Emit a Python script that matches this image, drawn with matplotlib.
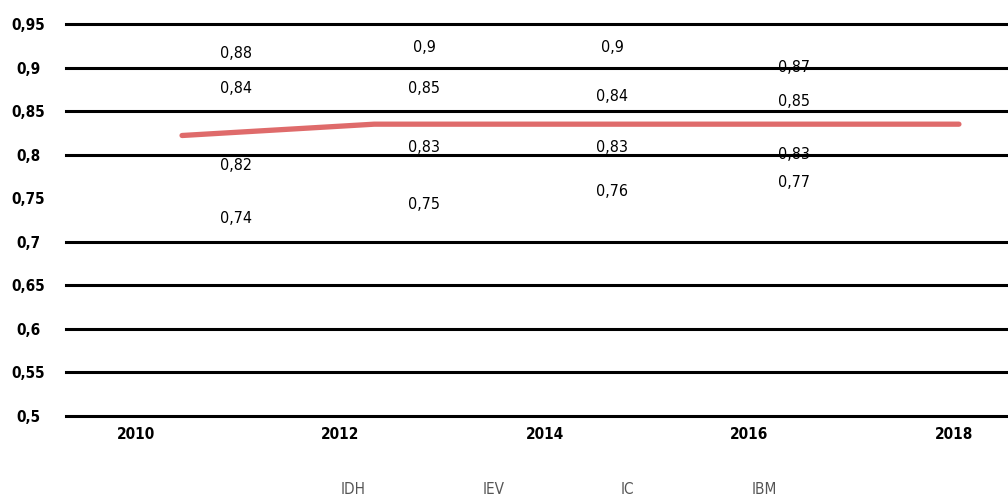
import numpy as np
import matplotlib
matplotlib.use("Agg")
import matplotlib.pyplot as plt
from matplotlib.lines import Line2D

plt.rcParams['font.family'] = ['DejaVu Sans']
plt.rcParams['font.stretch'] = 'condensed'

# label columns (x position in years) and the four index series
label_x = [2010.98, 2012.82, 2014.66, 2016.44]
idh = [0.74, 0.75, 0.76, 0.77]
iev = [0.88, 0.9, 0.9, 0.87]
ic = [0.84, 0.85, 0.84, 0.85]
ibm = [0.82, 0.83, 0.83, 0.83]
series_names = ['IDH', 'IEV', 'IC', 'IBM']

# where the value labels sit on the chart (they don't follow the axis exactly)
idh_label_y = [0.727, 0.743, 0.758, 0.768]
iev_label_y = [0.916, 0.923, 0.923, 0.900]
ic_label_y = [0.876, 0.876, 0.867, 0.861]
ibm_label_y = [0.787, 0.808, 0.808, 0.800]

# red line
line_x = [2010.45, 2012.33, 2018.05]
line_y = [0.822, 0.835, 0.835]

yticks = [0.5, 0.55, 0.6, 0.65, 0.7, 0.75, 0.8, 0.85, 0.9, 0.95]
xticks = [2010, 2012, 2014, 2016, 2018]

fig = plt.figure(figsize=(10.08, 5.0), dpi=100)
ax = fig.add_axes([0.0655, 0.168, 0.9345, 0.784])

for v in yticks:
    if v == 0.75:
        continue
    ax.axhline(v, color='black', lw=2.2, zorder=1, clip_on=False)

ax.plot(line_x, line_y, color='#df6b6b', lw=3.8, solid_capstyle='round', zorder=3)

for vals, ys in [(idh, idh_label_y), (iev, iev_label_y), (ic, ic_label_y), (ibm, ibm_label_y)]:
    for x, v, y in zip(label_x, vals, ys):
        ax.text(x, y, f"{v:g}".replace('.', ','), ha='center', va='center',
                fontsize=11.5, color='black', zorder=4)

ax.set_xlim(2009.315, 2018.53)
ax.set_ylim(0.5, 0.95)
ax.set_yticks(yticks)
ax.set_yticklabels([f"{v:g}".replace('.', ',') for v in yticks],
                   fontsize=11, fontweight='bold', ha='center')
ax.set_xticks(xticks)
ax.set_xticklabels([str(x) for x in xticks], fontsize=11, fontweight='bold')
ax.tick_params(axis='y', length=0, pad=27)
ax.tick_params(axis='x', length=0, pad=8)
for s in ax.spines.values():
    s.set_visible(False)

handles = [Line2D([], [], color='white', lw=0) for _ in series_names]
fig.legend(handles, series_names, loc='center', bbox_to_anchor=(0.539, 0.02),
           ncol=4, frameon=False, fontsize=11, labelcolor='#555555',
           handlelength=1.5, handletextpad=0.5, columnspacing=5.65)

fig.savefig('out.png', dpi=100)
